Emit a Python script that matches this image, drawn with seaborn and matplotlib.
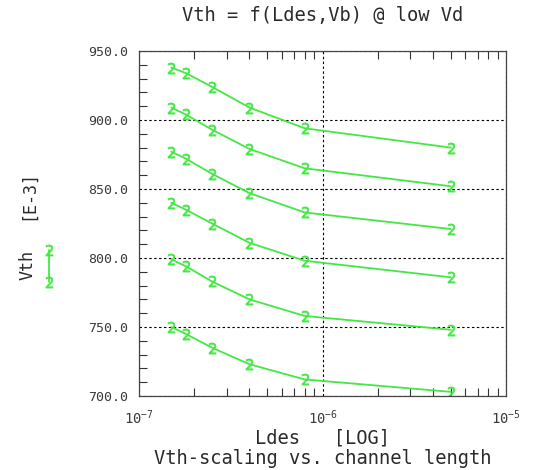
import matplotlib
matplotlib.use("Agg")
import matplotlib.pyplot as plt
from matplotlib.ticker import MultipleLocator, FormatStrFormatter, LogLocator, NullFormatter
from matplotlib.lines import Line2D
import seaborn as sns
import pandas as pd

# ---- data ----
ldes = [1.5e-7, 1.8e-7, 2.5e-7, 4.0e-7, 8.0e-7, 5.0e-6]
vth_curve1 = [938, 934, 924, 909, 894, 880]
vth_curve2 = [909, 904, 893, 879, 865, 852]
vth_curve3 = [877, 872, 861, 847, 833, 821]
vth_curve4 = [840, 835, 825, 811, 798, 786]
vth_curve5 = [799, 794, 783, 770, 758, 748]
vth_curve6 = [750, 745, 735, 723, 712, 703]
curves = [vth_curve1, vth_curve2, vth_curve3, vth_curve4, vth_curve5, vth_curve6]

title = "Vth = f(Ldes,Vb) @ low Vd"
xlabel = "Ldes   [LOG]"
bottom_title = "Vth-scaling vs. channel length"
ylabel_main = "Vth"
ylabel_unit = "[E-3]"
ylim = (700, 950)
xlim = (1e-7, 1e-5)

GREEN = "#44e844"
MONO = ["DejaVu Sans Mono"]
TXT = "#2a2a2a"

sns.set_style("white")
plt.rcParams["font.family"] = MONO

W, H = 541, 470
fig = plt.figure(figsize=(W / 100, H / 100), dpi=100)
L, R, T, B = 139, 506, 51, 396
ax = fig.add_axes([L / W, 1 - B / H, (R - L) / W, (B - T) / H])

rows = []
for i, c in enumerate(curves):
    for x, y in zip(ldes, c):
        rows.append({"Ldes": x, "Vth": y, "curve": f"c{i}"})
df = pd.DataFrame(rows)

for name, g in df.groupby("curve"):
    sns.lineplot(data=g, x="Ldes", y="Vth", ax=ax, color=GREEN, lw=1.3,
                 marker="$2$", markersize=8, markeredgewidth=0.5,
                 markeredgecolor=GREEN, markerfacecolor=GREEN,
                 sort=False, errorbar=None, legend=False)

ax.set_xscale("log")
ax.set_xlim(*xlim)
ax.set_ylim(*ylim)
ax.set_xlabel("")
ax.set_ylabel("")

ax.yaxis.set_major_locator(MultipleLocator(50))
ax.yaxis.set_minor_locator(MultipleLocator(10))
ax.yaxis.set_major_formatter(FormatStrFormatter("%.1f"))
ax.xaxis.set_major_locator(LogLocator(base=10, numticks=10))
ax.xaxis.set_minor_locator(LogLocator(base=10, subs=range(2, 10), numticks=20))
ax.xaxis.set_minor_formatter(NullFormatter())

ax.tick_params(which="both", direction="in", top=True, bottom=True,
               left=True, right=False, color="#333333", width=0.8)
ax.tick_params(which="minor", length=6)
ax.tick_params(which="major", length=0, pad=8, labelsize=9.5, labelcolor="#3a3a3a")
ax.tick_params(axis="x", which="major", pad=9, labelsize=10)

ax.grid(True, which="major", color="black", linestyle=(0, (2.2, 2.2)), lw=0.8)
for s in ax.spines.values():
    s.set_color("#444444")
    s.set_linewidth(0.9)

cx = (L + R) / 2 / W
fig.text(cx, 1 - 16 / H, title, ha="center", va="center", fontsize=13.5,
         color=TXT, family=MONO)
fig.text(cx, 1 - 438 / H, xlabel, ha="center", va="center", fontsize=13.5,
         color=TXT, family=MONO)
fig.text(cx, 1 - 458 / H, bottom_title, ha="center", va="center", fontsize=13.5,
         color=TXT, family=MONO)
fig.text(28 / W, 1 - 265 / H, ylabel_main, ha="center", va="center", rotation=90,
         fontsize=12, color=TXT, family=MONO)
fig.text(28 / W, 1 - 195 / H, ylabel_unit, ha="center", va="center", rotation=90,
         fontsize=12, color=TXT, family=MONO)
fig.add_artist(Line2D([49 / W, 49 / W], [1 - 250 / H, 1 - 282 / H], color=GREEN,
                      lw=1.3, marker="$2$", markersize=8, markeredgewidth=0.5,
                      markeredgecolor=GREEN, markerfacecolor=GREEN,
                      transform=fig.transFigure))

fig.savefig("out.png", dpi=100)
